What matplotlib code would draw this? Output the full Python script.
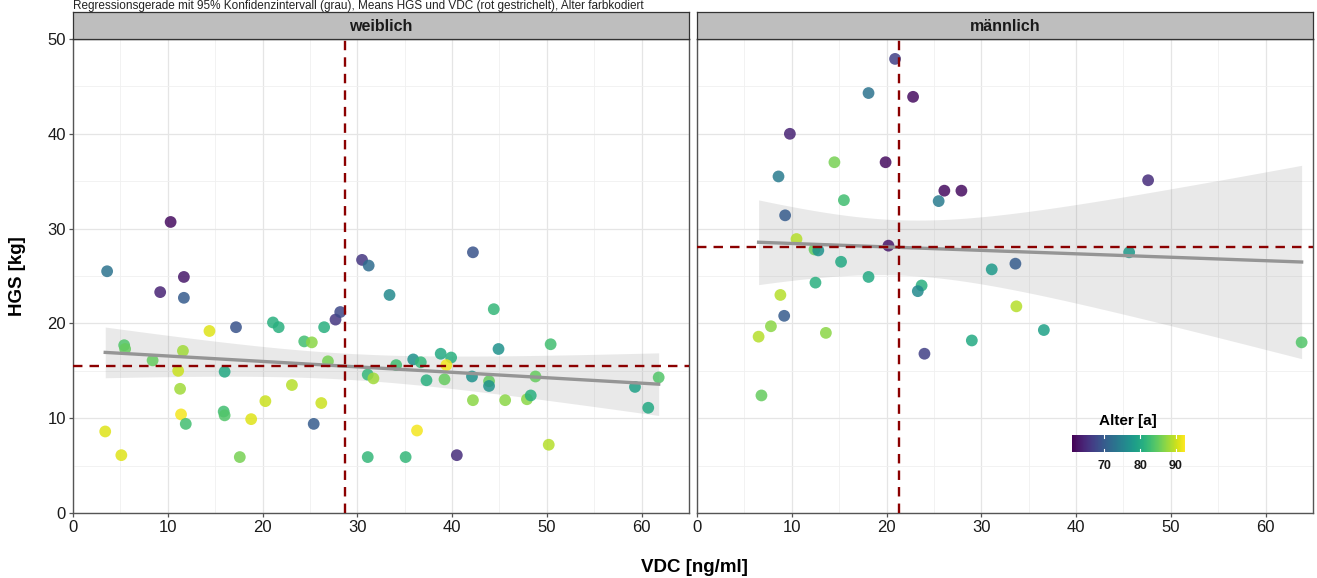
import numpy as np
import matplotlib
matplotlib.use('Agg')
import matplotlib.pyplot as plt
from matplotlib import cm, colors

plt.rcParams['font.family'] = ['Liberation Sans', 'DejaVu Sans']

# Werte
vdc_w = [3.4, 3.6, 5.1, 5.4, 5.5, 8.4, 9.2, 10.3, 11.1, 11.3, 11.4, 11.7, 11.7, 11.6, 11.9,
         14.4, 16.0, 15.9, 16.0, 17.2, 17.6, 18.8, 20.3, 21.1, 21.7, 23.1, 24.4, 25.2, 25.4,
         26.2, 26.5, 26.9, 27.7, 28.2, 30.5, 31.2, 31.1, 31.7, 31.1, 33.4, 42.2, 44.4, 44.9,
         50.4, 34.1, 35.9, 36.7, 38.8, 39.9, 39.4, 37.3, 39.2, 42.1, 43.9, 43.9, 42.2, 45.6,
         47.9, 48.3, 48.8, 36.3, 50.2, 35.1, 40.5, 59.3, 60.7, 61.8]
hgs_w = [8.6, 25.5, 6.1, 17.7, 17.3, 16.1, 23.3, 30.7, 15.0, 13.1, 10.4, 24.9, 22.7, 17.1, 9.4,
         19.2, 14.9, 10.7, 10.3, 19.6, 5.9, 9.9, 11.8, 20.1, 19.6, 13.5, 18.1, 18.0, 9.4,
         11.6, 19.6, 16.0, 20.4, 21.2, 26.7, 26.1, 14.6, 14.2, 5.9, 23.0, 27.5, 21.5, 17.3,
         17.8, 15.6, 16.2, 15.9, 16.8, 16.4, 15.6, 14.0, 14.1, 14.4, 13.9, 13.4, 11.9, 11.9,
         12.0, 12.4, 14.4, 8.7, 7.2, 5.9, 6.1, 13.3, 11.1, 14.3]
alter_w = [91, 73, 91, 84, 85, 85, 64, 62, 90, 88, 92, 63, 70, 88, 83,
           91, 80, 83, 84, 69, 86, 91, 90, 81, 81, 89, 83, 87, 70,
           90, 81, 86, 66, 68, 66, 72, 82, 88, 82, 76, 69, 82, 77,
           83, 83, 77, 82, 80, 81, 92, 81, 85, 77, 85, 77, 87, 87,
           87, 81, 85, 92, 89, 82, 65, 79, 80, 84]

vdc_m = [20.9, 18.1, 22.8, 9.8, 14.5, 19.9, 8.6, 15.5, 26.1, 27.9, 25.5, 9.3, 10.5, 20.2,
         12.4, 12.8, 15.2, 31.1, 18.1, 12.5, 23.7, 23.3, 8.8, 9.2, 7.8, 13.6, 6.5, 29.0,
         24.0, 6.8, 47.6, 45.6, 33.6, 33.7, 36.6, 63.8]
hgs_m = [47.9, 44.3, 43.9, 40.0, 37.0, 37.0, 35.5, 33.0, 34.0, 34.0, 32.9, 31.4, 28.9, 28.2,
         27.8, 27.7, 26.5, 25.7, 24.9, 24.3, 24.0, 23.4, 23.0, 20.8, 19.7, 19.0, 18.6, 18.2,
         16.8, 12.4, 35.1, 27.5, 26.3, 21.8, 19.3, 18.0]
alter_m = [67, 73, 62, 64, 86, 62, 74, 83, 62, 62, 74, 70, 89, 63,
           85, 77, 80, 78, 80, 81, 81, 76, 89, 70, 87, 87, 89, 80,
           67, 85, 65, 78, 70, 89, 79, 84]

# Mittelwerte (rot gestrichelt)
mean_vdc = {'weiblich': 28.7, 'männlich': 21.3}
mean_hgs = {'weiblich': 15.5, 'männlich': 28.1}

alter_min, alter_max = 61, 92.5
norm = colors.Normalize(alter_min, alter_max)
cmap = plt.get_cmap('viridis')

fig = plt.figure(figsize=(13.17, 5.78), dpi=100)

fig.text(73 / 1317, 1 - 0.5 / 578,
         'Regressionsgerade mit 95% Konfidenzintervall (grau), Means HGS und VDC (rot gestrichelt), Alter farbkodiert',
         fontsize=8.5, ha='left', va='top', color='#222222')

panels = [('weiblich', vdc_w, hgs_w, alter_w, 73), ('männlich', vdc_m, hgs_m, alter_m, 697)]
for name, x, y, a, left in panels:
    ax = fig.add_axes([left / 1317, 1 - 513 / 578, 616 / 1317, 474 / 578])
    x = np.array(x)
    y = np.array(y)

    # Regression mit 95%-KI
    n = len(x)
    b, c = np.polyfit(x, y, 1)
    resid = y - (b * x + c)
    s = np.sqrt(np.sum(resid ** 2) / (n - 2))
    xs = np.linspace(x.min(), x.max(), 80)
    se = s * np.sqrt(1 / n + (xs - x.mean()) ** 2 / np.sum((x - x.mean()) ** 2))
    t = 1.96 + 2.4 / (n - 2)
    ys = b * xs + c
    ax.fill_between(xs, ys - t * se, ys + t * se, color='grey', alpha=0.17, lw=0, zorder=2)

    ax.scatter(x, y, c=a, cmap=cmap, norm=norm, s=72, alpha=0.85, edgecolors='none', zorder=3)
    ax.plot(xs, ys, color='#959595', lw=2.4, zorder=4)

    ax.axvline(mean_vdc[name], color='#8B0000', lw=1.7, ls=(0, (4, 3)), zorder=5)
    ax.axhline(mean_hgs[name], color='#8B0000', lw=1.7, ls=(0, (4, 3)), zorder=5)

    ax.set_xlim(0, 65)
    ax.set_ylim(0, 50)
    ax.set_xticks(range(0, 61, 10))
    ax.set_xticks(range(5, 66, 10), minor=True)
    ax.set_yticks(range(0, 51, 10))
    ax.set_yticks(range(5, 50, 10), minor=True)
    ax.grid(True, which='major', color='#E5E5E5', lw=0.9, zorder=0)
    ax.grid(True, which='minor', color='#F0F0F0', lw=0.6, zorder=0)
    ax.set_axisbelow(True)
    ax.tick_params(which='minor', length=0)
    ax.tick_params(which='major', length=3, width=0.9, color='#555555', labelsize=12,
                   labelcolor='#1A1A1A', pad=2)
    for sp in ax.spines.values():
        sp.set_color('#555555')
        sp.set_linewidth(1.0)
    if left != 73:
        ax.tick_params(axis='y', left=False, labelleft=False)

    # Streifen oben
    st = fig.add_axes([left / 1317, 1 - 39 / 578, 616 / 1317, 27 / 578])
    st.set_facecolor('#BEBEBE')
    st.set_xticks([])
    st.set_yticks([])
    for sp in st.spines.values():
        sp.set_color('#333333')
        sp.set_linewidth(0.9)
    st.text(0.5, 0.45, name, ha='center', va='center', fontsize=11.5, fontweight='bold',
            color='#1A1A1A', transform=st.transAxes)

fig.text(18 / 1317, 1 - 276 / 578, 'HGS [kg]', rotation=90, ha='center', va='center',
         fontsize=13.5, fontweight='bold')
fig.text(694 / 1317, 1 - 568 / 578, 'VDC [ng/ml]', ha='center', va='center',
         fontsize=13.5, fontweight='bold')

# Farblegende
cax = fig.add_axes([1072 / 1317, 1 - 452 / 578, 113 / 1317, 17 / 578])
cb = fig.colorbar(cm.ScalarMappable(norm=norm, cmap=cmap), cax=cax, orientation='horizontal')
cb.set_ticks([70, 80, 90])
cb.outline.set_visible(False)
cax.tick_params(length=0, labelsize=9, pad=6)
for lab in cax.get_xticklabels():
    lab.set_fontweight('bold')
    lab.set_color('#1A1A1A')
for v in [70, 80, 90]:
    cax.plot([v, v], [0, 0.2], color='white', lw=0.8)
    cax.plot([v, v], [0.8, 1], color='white', lw=0.8)
fig.text(1128 / 1317, 1 - 421 / 578, 'Alter [a]', ha='center', va='center',
         fontsize=11, fontweight='bold')

fig.savefig('out.png', dpi=100)
